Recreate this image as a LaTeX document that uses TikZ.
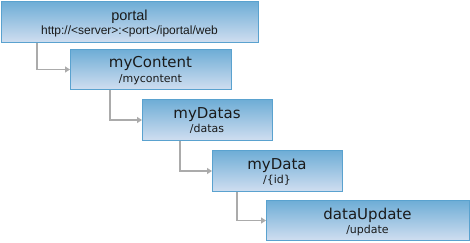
\documentclass[tikz,border=0pt]{standalone}
\usepackage{fontspec}
\setmainfont{DejaVu Sans}
\newfontfamily\arialfont{Liberation Sans}
\usetikzlibrary{arrows.meta,calc}
\definecolor{boxtop}{HTML}{6EADD6}
\definecolor{boxbot}{HTML}{D0DEF0}
\definecolor{boxline}{HTML}{5AA2CF}
\definecolor{conn}{HTML}{ABABAB}
\definecolor{txt}{HTML}{1A1A1A}
\tikzset{
  box/.style={draw=boxline, line width=1pt, top color=boxtop, bottom color=boxbot, inner sep=0pt, anchor=north west},
  ttl/.style={anchor=base, inner sep=0pt, text=txt, font=\fontsize{15}{17}\selectfont},
  sub/.style={anchor=base, inner sep=0pt, text=txt, font=\fontsize{11}{13}\selectfont},
  pttl/.style={anchor=base, inner sep=0pt, text=txt, font=\arialfont\fontsize{14.5}{16}\selectfont},
  psub/.style={anchor=base, inner sep=0pt, text=txt, font=\arialfont\fontsize{12}{14}\selectfont},
  conn/.style={draw=conn, line width=1.7pt, -{Triangle[length=5pt,width=6pt]}}
}
\begin{document}
\begin{tikzpicture}[x=1pt,y=-1pt]
\useasboundingbox (0,0) rectangle (470,242);
% boxes
\node[box, minimum width=257pt, minimum height=41pt] (p) at (1,1) {};
\node[box, minimum width=161pt, minimum height=40pt] (c) at (70,49) {};
\node[box, minimum width=130pt, minimum height=41pt] (ds) at (142,99) {};
\node[box, minimum width=130pt, minimum height=41pt] (d) at (212,150) {};
\node[box, minimum width=203pt, minimum height=40pt] (u) at (266,200) {};
% texts
\node[pttl] (pt) at (129.5,20) {portal};
\node[psub] (ps) at (129.5,34) {http://<server>:<port>/iportal/web};
\node[ttl] (ct) at (150.5,67) {myContent};
\node[sub] (cs) at (150.5,82) {/mycontent};
\node[ttl] (dst) at (207,118) {myDatas};
\node[sub] (dss) at (207,132) {/datas};
\node[ttl] (dt) at (277,169) {myData};
\node[sub] (dts) at (277,183) {/\{id\}};
\node[ttl] (ut) at (367.5,219) {dataUpdate};
\node[sub] (us) at (367.5,233) {/update};
% connectors
\draw[conn] ($(p.south west)+(36,0)$) |- (c.west);
\draw[conn] ($(c.south west)+(40,0)$) |- (ds.west);
\draw[conn] ($(ds.south west)+(38,0)$) |- (d.west);
\draw[conn] ($(d.south west)+(25,0)$) |- (u.west);
\end{tikzpicture}
\end{document}
